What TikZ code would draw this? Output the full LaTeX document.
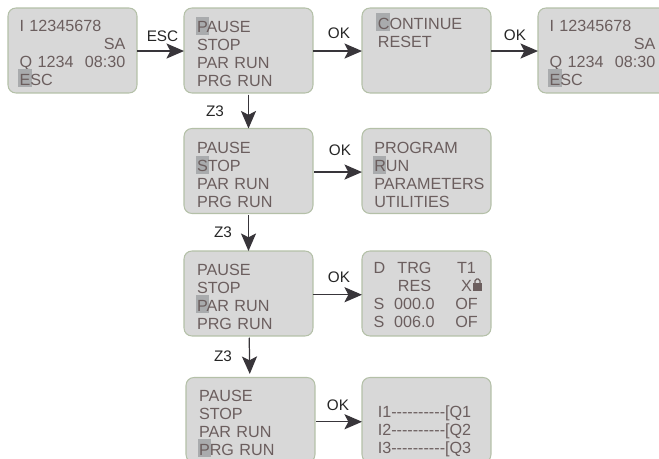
\documentclass[tikz,border=0pt]{standalone}
\usepackage{fontspec}
\setmainfont{Liberation Sans}
\usepackage{tikz}
\usetikzlibrary{arrows.meta}
\definecolor{screenfill}{HTML}{D8D8D8}
\definecolor{screenedge}{HTML}{B4C0A8}
\definecolor{screentext}{HTML}{6B5E5E}
\definecolor{cursorfill}{HTML}{A9ABAD}
\definecolor{arrowdark}{HTML}{38353A}
\newcommand{\cursor}[1]{\makebox[0pt][l]{\hspace{-0.8pt}\textcolor{cursorfill}{\smash{\rule[-1.2pt]{7.7pt}{10.4pt}}}}#1}
\newcommand{\trow}[3]{\makebox[13pt][l]{#1}\makebox[20.5pt][c]{#2}\hspace{12.4pt}\makebox[14pt][c]{#3}}
\newcommand{\wire}{-{}-{}-{}-{}-{}-{}-{}-{}-{}-}
\begin{document}
\begin{tikzpicture}[
  x=0.02cm,y=-0.02cm,
  screen/.style={draw=screenedge, line width=0.6pt, fill=screenfill, rounded corners=4.5pt, align=left,
    text=screentext, inner xsep=#1, inner ysep=0pt, text width=2.58cm-2*#1, minimum height=1.7cm, outer sep=0pt,
    font=\fontsize{9.2}{10.25}\selectfont},
  screen/.default=6.6pt,
  drop/.style={execute at begin node={\rule{0pt}{#1}}},
  keylabel/.style={text=black!85, inner sep=0pt, font=\fontsize{8.7}{10.25}\selectfont},
  arr/.style={-{Stealth[length=10pt,width=8.6pt,inset=2.2pt]}, line width=0.7pt, draw=arrowdark, fill=arrowdark}
]
\clip[use as bounding box] (0,0) rectangle (659,459);
% top row
\node[screen, drop=8.9pt] (status) at (72.5,50.5) {I 12345678\\ \hfill SA\\Q 1234 \hfill 08:30\\\cursor{E}SC};
\node[screen=7.4pt, drop=10.6pt] (pause) at (248.5,50.5) {\cursor{P}AUSE\\STOP\\PAR RUN\\PRG RUN};
\node[screen=9pt, drop=6.6pt] (cont) at (426.5,50.5) {\cursor{C}ONTINUE\\RESET\\~\\~};
\node[screen, drop=8.9pt] (status2) at (602.5,50.5) {I 12345678\\ \hfill SA\\Q 1234 \hfill 08:30\\\cursor{E}SC};
% second row
\node[screen=7.4pt, drop=11.2pt] (stop) at (248.5,171) {PAUSE\\\cursor{S}TOP\\PAR RUN\\PRG RUN};
\node[screen=7pt, drop=11.2pt] (prog) at (426.5,171) {PROGRAM\\\cursor{R}UN\\PARAMETERS\\UTILITIES};
% third row
\node[screen=7.4pt, drop=10pt] (par) at (248.5,293.5) {PAUSE\\STOP\\\cursor{P}AR RUN\\PRG RUN};
\node[screen, drop=7.7pt] (trg) at (426.5,293.5) {\trow{D}{TRG}{T1}\\\trow{}{RES}{X}\\\trow{S}{000.0}{OF}\\\trow{S}{006.0}{OF}};
% fourth row
\node[screen=7.4pt, drop=9.5pt] (prg) at (250.5,420) {PAUSE\\STOP\\PAR RUN\\\cursor{P}RG RUN};
\node[screen=9pt, drop=9.5pt] (ladder) at (426.5,420) {~\\I1\wire[Q1\\I2\wire[Q2\\I3\wire[Q3};
% lock icon
\fill[screentext] (473,283) rectangle (482,291);
\draw[screentext, line width=0.7pt, rounded corners=1pt] (475,284) -- (475,279) -- (480,279) -- (480,284);
% arrows
\draw[arr] ([yshift=-0.3pt]status.east) -- ([yshift=-0.3pt]pause.west);
\draw[arr] ([yshift=-0.3pt]pause.east) -- ([yshift=-0.3pt]cont.west);
\draw[arr] ([yshift=-0.3pt]cont.east) -- ([yshift=-0.3pt]status2.west);
\draw[arr, shorten <=0.8pt] ([yshift=-0.6pt]stop.east) -- ([yshift=-0.6pt]prog.west);
\draw[arr] ([yshift=-0.7pt]par.east) -- ([yshift=-0.7pt]trg.west);
\draw[arr, shorten <=0.6pt] ([yshift=-1pt]prg.east) -- ([yshift=-1pt]ladder.west);
\draw[arr, shorten <=1pt] (pause) -- (stop);
\draw[arr, shorten <=1pt] (stop) -- (par);
\draw[arr, shorten <=1pt, shorten >=2pt] (par) -- (prg);
% key labels
\node[keylabel] (esc) at (162.5,36) {ESC};
\node[keylabel] (ok1) at (339,33) {OK};
\node[keylabel] (ok2) at (515,35) {OK};
\node[keylabel] (ok3) at (340,150) {OK};
\node[keylabel] (ok4) at (339,277) {OK};
\node[keylabel] (ok5) at (338,405) {OK};
\node[keylabel] (z1) at (215,111) {Z3};
\node[keylabel] (z2) at (223,232) {Z3};
\node[keylabel] (z3) at (223,356) {Z3};
\end{tikzpicture}
\end{document}
